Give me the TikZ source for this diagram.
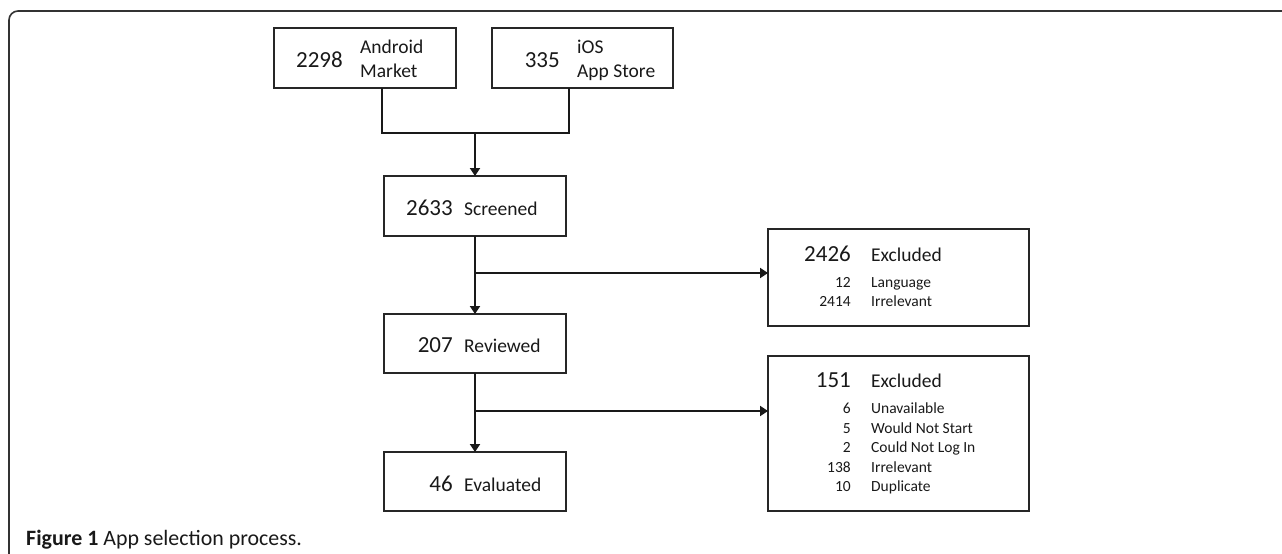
\documentclass[tikz,border=0pt]{standalone}
\usepackage{fontspec}
\setmainfont{Carlito}
\usetikzlibrary{arrows.meta}
\begin{document}
\begin{tikzpicture}[x=1pt,y=-1pt,
  box/.style={draw=black!85,line width=2.2pt,inner sep=0pt,outer sep=0pt,anchor=north west},
  conn/.style={draw=black!90,line width=2.2pt},
  arr/.style={conn,-{Triangle[length=8pt,width=10pt]}},
  num/.style={inner sep=0pt,anchor=base east,font=\fontsize{23}{27}\selectfont,text=black!90},
  lab/.style={inner sep=0pt,anchor=base west,font=\fontsize{19.5}{23}\selectfont,text=black!90},
  snum/.style={inner sep=0pt,anchor=base east,font=\fontsize{15.5}{18}\selectfont,text=black!90},
  slab/.style={inner sep=0pt,anchor=base west,font=\fontsize{15.5}{18}\selectfont,text=black!90}]
\useasboundingbox (0,0) rectangle (1282,554);
% frame
\draw[line width=1.6pt,black!80,rounded corners=9pt] (9,556) -- (9,11) -- (1284,11);
% boxes
\node[box,minimum width=182pt,minimum height=60pt] (andr) at (274,28) {};
\node[box,minimum width=181pt,minimum height=60pt] (ios) at (492,28) {};
\node[box,minimum width=182pt,minimum height=60pt] (scr) at (384,176) {};
\node[box,minimum width=182pt,minimum height=59pt] (rev) at (384,314) {};
\node[box,minimum width=182pt,minimum height=59pt] (eva) at (384,452) {};
\node[box,minimum width=261pt,minimum height=97pt] (exa) at (768,229) {};
\node[box,minimum width=261pt,minimum height=155pt] (exb) at (768,356) {};
% texts
\node[num] (t1) at (343,67) {2298};
\node[lab] (t1a) at (360,53) {Android};
\node[lab] (t1b) at (360,77) {Market};
\node[num] (t2) at (560,67) {335};
\node[lab] (t2a) at (577,53) {iOS};
\node[lab] (t2b) at (577,77) {App Store};
\node[num] (t3) at (453,215) {2633};
\node[lab] (t3a) at (464,215) {Screened};
\node[num] (t4) at (453,352) {207};
\node[lab] (t4a) at (464,352) {Reviewed};
\node[num] (t5) at (453,491) {46};
\node[lab] (t5a) at (464,491) {Evaluated};
\node[num] (e1) at (851,261) {2426};
\node[lab] (e1a) at (871,261) {Excluded};
\node[snum] (e1b) at (851,287) {12};
\node[slab] (e1c) at (871,287) {Language};
\node[snum] (e1d) at (851,306) {2414};
\node[slab] (e1e) at (871,306) {Irrelevant};
\node[num] (e2) at (851,387) {151};
\node[lab] (e2a) at (871,387) {Excluded};
\node[snum] (n1) at (851,413) {6};
\node[slab] (l1) at (871,413) {Unavailable};
\node[snum] (n2) at (851,433) {5};
\node[slab] (l2) at (871,433) {Would Not Start};
\node[snum] (n3) at (851,452) {2};
\node[slab] (l3) at (871,452) {Could Not Log In};
\node[snum] (n4) at (851,472) {138};
\node[slab] (l4) at (871,472) {Irrelevant};
\node[snum] (n5) at (851,491) {10};
\node[slab] (l5) at (871,491) {Duplicate};
% caption
\node[inner sep=0pt,anchor=base west,font=\fontsize{21.9}{26}\selectfont,text=black!90] (cap) at (26,545) {\textbf{Figure 1} App selection process.};
% connectors
\coordinate (j) at (scr.north |- 0,133);
\coordinate (b1) at (scr.south |- 0,273);
\coordinate (b2) at (rev.south |- 0,411);
\draw[conn] ([xshift=17pt]andr.south) |- (j) -| ([xshift=-13.5pt]ios.south);
\draw[arr] (j) -- (scr.north);
\draw[arr] (scr.south) -- (rev.north);
\draw[arr] (rev.south) -- (eva.north);
\draw[arr] (b1) -- (b1 -| exa.west);
\draw[arr] (b2) -- (b2 -| exb.west);
\end{tikzpicture}
\end{document}
